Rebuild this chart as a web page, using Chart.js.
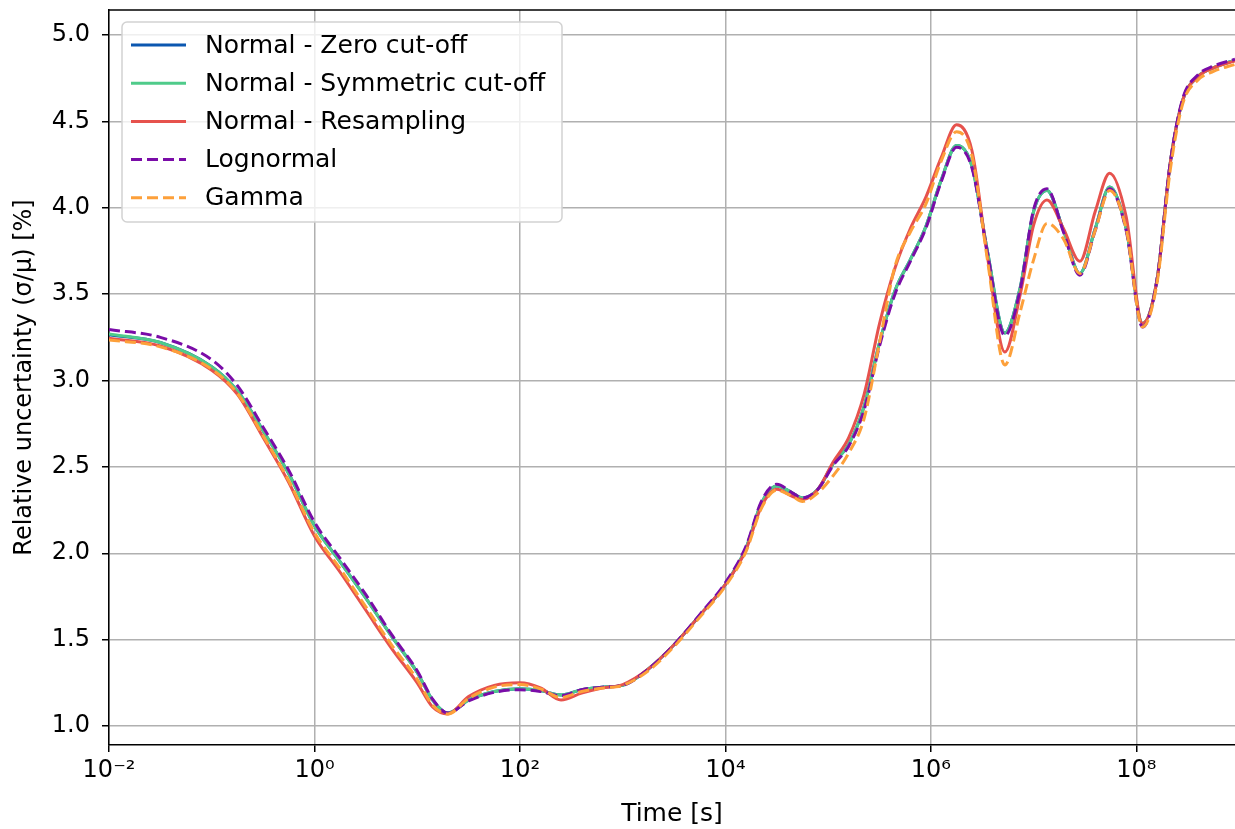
<!DOCTYPE html>
<html>
<head>
<meta charset="utf-8">
<script src="https://cdn.jsdelivr.net/npm/chart.js@4.4.1/dist/chart.umd.min.js"></script>
<style>
  body { margin: 0; background: #fff; }
  #chart { display: block; }
</style>
</head>
<body>
<canvas id="chart" width="1235" height="829"></canvas>
<script>
// time axis, as powers of ten (log10 of seconds)
const timeExp = [-2, -1.5, -1, -0.75, -0.5, -0.25, 0, 0.25, 0.5, 0.75,
    1, 1.15, 1.3, 1.5, 1.75, 2, 2.2, 2.4, 2.6, 2.8,
    3, 3.25, 3.5, 3.75, 4, 4.2, 4.35, 4.5, 4.65, 4.75, 4.9,
    5.05, 5.2, 5.35, 5.5, 5.65, 5.8, 5.95, 6.1, 6.25, 6.4, 6.55, 6.72, 6.87,
    7.0, 7.13, 7.29, 7.45, 7.6, 7.74, 7.9, 8.06, 8.2, 8.33, 8.45, 8.6, 8.75, 8.96];

// relative uncertainty [%]
const zeroCutoff = [3.265, 3.22, 3.08, 2.94, 2.71, 2.46, 2.16, 1.95, 1.74, 1.52,
    1.31, 1.15, 1.075, 1.15, 1.20, 1.215, 1.205, 1.18, 1.21, 1.225,
    1.235, 1.33, 1.47, 1.64, 1.82, 2.03, 2.29, 2.39, 2.35, 2.32, 2.37,
    2.52, 2.63, 2.85, 3.22, 3.52, 3.70, 3.89, 4.16, 4.36, 4.24, 3.75, 3.275, 3.54,
    3.98, 4.10, 3.87, 3.62, 3.88, 4.12, 3.88, 3.33, 3.58, 4.26, 4.62, 4.76, 4.81, 4.855];
const symmetricCutoff = [3.27, 3.22, 3.08, 2.94, 2.71, 2.46, 2.16, 1.95, 1.74, 1.52,
    1.31, 1.15, 1.075, 1.15, 1.20, 1.215, 1.205, 1.18, 1.21, 1.225,
    1.235, 1.33, 1.47, 1.64, 1.82, 2.03, 2.29, 2.39, 2.35, 2.32, 2.37,
    2.52, 2.63, 2.85, 3.22, 3.52, 3.70, 3.89, 4.16, 4.36, 4.24, 3.75, 3.275, 3.54,
    3.98, 4.10, 3.87, 3.62, 3.88, 4.12, 3.88, 3.33, 3.58, 4.26, 4.62, 4.76, 4.81, 4.855];
const resampling = [3.245, 3.20, 3.06, 2.92, 2.67, 2.41, 2.10, 1.89, 1.67, 1.45,
    1.25, 1.11, 1.07, 1.17, 1.235, 1.25, 1.22, 1.15, 1.19, 1.22,
    1.24, 1.33, 1.47, 1.64, 1.82, 2.02, 2.27, 2.37, 2.33, 2.31, 2.37,
    2.53, 2.67, 2.92, 3.33, 3.65, 3.88, 4.06, 4.29, 4.48, 4.33, 3.72, 3.165, 3.50,
    3.90, 4.045, 3.88, 3.69, 3.98, 4.20, 3.95, 3.33, 3.58, 4.26, 4.62, 4.76, 4.81, 4.85];
const lognormal = [3.295, 3.25, 3.12, 2.97, 2.73, 2.48, 2.18, 1.97, 1.76, 1.53,
    1.32, 1.155, 1.075, 1.145, 1.195, 1.21, 1.20, 1.175, 1.21, 1.225,
    1.235, 1.33, 1.47, 1.645, 1.83, 2.04, 2.30, 2.40, 2.35, 2.32, 2.37,
    2.51, 2.62, 2.83, 3.20, 3.50, 3.69, 3.88, 4.15, 4.35, 4.23, 3.74, 3.26, 3.53,
    3.99, 4.11, 3.86, 3.61, 3.87, 4.11, 3.87, 3.31, 3.58, 4.26, 4.63, 4.77, 4.82, 4.86];
const gamma = [3.235, 3.195, 3.065, 2.925, 2.68, 2.42, 2.12, 1.91, 1.69, 1.47,
    1.27, 1.12, 1.07, 1.16, 1.225, 1.24, 1.215, 1.165, 1.20, 1.22,
    1.235, 1.32, 1.46, 1.63, 1.81, 2.01, 2.26, 2.365, 2.33, 2.30, 2.35,
    2.45, 2.58, 2.78, 3.22, 3.66, 3.86, 4.02, 4.27, 4.44, 4.30, 3.70, 3.09, 3.40,
    3.70, 3.91, 3.82, 3.62, 3.87, 4.10, 3.88, 3.31, 3.56, 4.22, 4.60, 4.74, 4.79, 4.83];

const xTickValues = [1e-2, 1e0, 1e2, 1e4, 1e6, 1e8];
const xTickLabels = ['10⁻²', '10⁰', '10²', '10⁴', '10⁶', '10⁸'];
const yTickValues = [1.0, 1.5, 2.0, 2.5, 3.0, 3.5, 4.0, 4.5, 5.0];

const FONT = "'DejaVu Sans', sans-serif";

function toPoints(values) {
    return values.map((v, i) => ({ x: Math.pow(10, timeExp[i]), y: v }));
}

const series = [
    { label: 'Normal - Zero cut-off', data: zeroCutoff, color: '#0b57b0', dash: [], order: 4 },
    { label: 'Normal - Symmetric cut-off', data: symmetricCutoff, color: '#4fcb8a', dash: [], order: 3 },
    { label: 'Normal - Resampling', data: resampling, color: '#e6524d', dash: [], order: 2 },
    { label: 'Lognormal', data: lognormal, color: '#7a0ca8', dash: [11, 5], order: 1 },
    { label: 'Gamma', data: gamma, color: '#fda03a', dash: [11, 5], order: 0 }
];

// legend box inside the axes, top left
const boxLegend = {
    id: 'boxLegend',
    afterDatasetsDraw(chart) {
        const ctx = chart.ctx;
        const x0 = 122, y0 = 22, w = 440, h = 200;
        ctx.save();
        ctx.beginPath();
        ctx.roundRect(x0, y0, w, h, 5);
        ctx.fillStyle = 'rgba(255,255,255,0.8)';
        ctx.fill();
        ctx.strokeStyle = '#d2d2d2';
        ctx.lineWidth = 1.5;
        ctx.stroke();
        ctx.font = '25px ' + FONT;
        ctx.textBaseline = 'middle';
        chart.data.datasets.forEach((ds, i) => {
            const y = 45 + i * 38.2;
            ctx.beginPath();
            ctx.setLineDash(ds.borderDash || []);
            ctx.strokeStyle = ds.borderColor;
            ctx.lineWidth = 3;
            ctx.moveTo(131, y);
            ctx.lineTo(186, y);
            ctx.stroke();
            ctx.setLineDash([]);
            ctx.fillStyle = '#000';
            ctx.fillText(ds.label, 205, y + 1);
        });
        ctx.restore();
    }
};

// top spine (right spine is outside the picture)
const topSpine = {
    id: 'topSpine',
    afterDraw(chart) {
        const a = chart.chartArea, ctx = chart.ctx;
        ctx.save();
        ctx.strokeStyle = '#000';
        ctx.lineWidth = 1.5;
        ctx.beginPath();
        ctx.moveTo(a.left, a.top);
        ctx.lineTo(a.right, a.top);
        ctx.stroke();
        ctx.restore();
    }
};

new Chart(document.getElementById('chart').getContext('2d'), {
    type: 'line',
    data: {
        datasets: series.map(s => ({
            label: s.label,
            data: toPoints(s.data),
            borderColor: s.color,
            borderDash: s.dash,
            borderWidth: 3,
            order: s.order,
            fill: false
        }))
    },
    options: {
        responsive: false,
        animation: false,
        layout: { padding: { top: 10, right: 0, bottom: 0, left: 0 } },
        elements: {
            point: { radius: 0 },
            line: { cubicInterpolationMode: 'monotone' }
        },
        plugins: {
            legend: { display: false },
            tooltip: { enabled: false }
        },
        scales: {
            x: {
                type: 'logarithmic',
                min: 1e-2,
                max: Math.pow(10, 8.96),
                afterBuildTicks: scale => { scale.ticks = xTickValues.map(v => ({ value: v })); },
                afterFit: scale => {
                    scale.height = 84;
                    scale.paddingLeft = 0;
                    scale.paddingRight = 0;
                },
                ticks: {
                    callback: v => xTickLabels[xTickValues.indexOf(v)],
                    color: '#000',
                    font: { family: FONT, size: 24 },
                    padding: 4,
                    maxRotation: 0,
                    autoSkip: false
                },
                grid: { color: '#b0b0b0', lineWidth: 1.5, tickColor: '#000', tickLength: 7, tickWidth: 1.5 },
                border: { color: '#000', width: 1.5 },
                title: {
                    display: true,
                    text: 'Time [s]',
                    color: '#000',
                    font: { family: FONT, size: 25 },
                    padding: { top: 0, bottom: 0 }
                }
            },
            y: {
                min: 0.89,
                max: 5.145,
                afterBuildTicks: scale => { scale.ticks = yTickValues.map(v => ({ value: v })); },
                afterFit: scale => {
                    scale.width = 109;
                    scale.paddingTop = 0;
                    scale.paddingBottom = 0;
                },
                ticks: {
                    callback: v => v.toFixed(1),
                    color: '#000',
                    font: { family: FONT, size: 24 },
                    padding: 12
                },
                grid: { color: '#b0b0b0', lineWidth: 1.5, tickColor: '#000', tickLength: 7, tickWidth: 1.5 },
                border: { color: '#000', width: 1.5 },
                title: {
                    display: true,
                    text: 'Relative uncertainty (σ/μ) [%]',
                    color: '#000',
                    font: { family: FONT, size: 24 },
                    padding: { top: 10, bottom: 0 }
                }
            }
        }
    },
    plugins: [boxLegend, topSpine]
});
</script>
</body>
</html>
